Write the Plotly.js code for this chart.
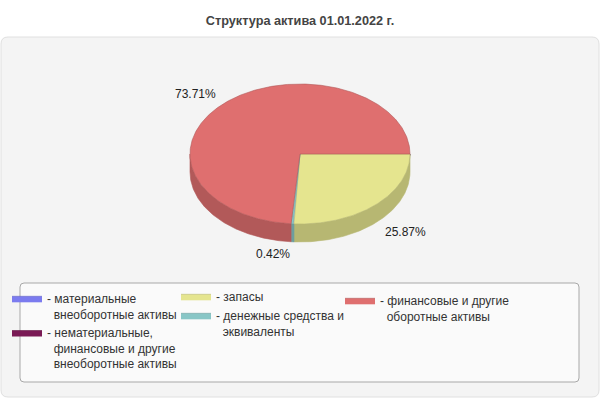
<!DOCTYPE html>
<html>
<head>
<meta charset="utf-8">
<script src="https://cdn.plot.ly/plotly-3.0.1.min.js"></script>
<style>
  html, body { margin: 0; padding: 0; background: #ffffff; }
  #chart { width: 600px; height: 400px; }
</style>
</head>
<body>
<div id="chart"></div>
<script>
// данные диаграммы
const categories = [
    'материальные внеоборотные активы',
    'нематериальные, финансовые и другие внеоборотные активы',
    'запасы',
    'денежные средства и эквиваленты',
    'финансовые и другие оборотные активы'
];
const legendText = [
    '- материальные<br>\u00a0\u00a0внеоборотные активы',
    '- нематериальные,<br>\u00a0\u00a0финансовые и другие<br>\u00a0\u00a0внеоборотные активы',
    '- запасы',
    '- денежные средства и<br>\u00a0\u00a0эквиваленты',
    '- финансовые и другие<br>\u00a0\u00a0оборотные активы'
];
const shares = [0, 0, 25.87, 0.42, 73.71];   // %
const legendOf = ['legend', 'legend', 'legend2', 'legend2', 'legend3'];

// цвета
const topColors  = ['#7b7bef', '#7a1a55', '#e5e58f', '#88c6c6', '#df6f6f'];
const sideColors = ['#6262bf', '#621544', '#b7b772', '#6d9e9e', '#b25959'];

// геометрия "объёмного" круга
const cx = 300, cy = 154, rx = 110, ry = 70, depth = 18;

function arcPoints(t0, t1, dy) {
    const xs = [], ys = [];
    const n = Math.max(2, Math.ceil((t1 - t0) / (Math.PI / 360)));
    for (let i = 0; i <= n; i++) {
        const t = t0 + (t1 - t0) * i / n;
        xs.push(cx + rx * Math.cos(t));
        ys.push(cy + ry * Math.sin(t) + dy);
    }
    return [xs, ys];
}

const total = shares.reduce((a, b) => a + b, 0);
const sideTraces = [], topTraces = [], annotations = [];
let start = 0;
shares.forEach((v, i) => {
    const t0 = start;
    const t1 = start + 2 * Math.PI * v / total;
    start = t1;

    // боковая стенка (видна только передняя половина)
    const a = Math.max(t0, 0), b = Math.min(t1, Math.PI);
    if (v > 0 && b > a) {
        const [ux, uy] = arcPoints(a, b, 0);
        const [lx, ly] = arcPoints(a, b, depth);
        sideTraces.push({
            type: 'scatter', mode: 'lines', fill: 'toself',
            x: ux.concat(lx.reverse(), [ux[0]]),
            y: uy.concat(ly.reverse(), [uy[0]]),
            fillcolor: sideColors[i],
            line: { color: sideColors[i], width: 0.6 },
            hoverinfo: 'skip', showlegend: false
        });
    }

    // верхняя грань; нулевой сектор рисуется узким клином под соседними
    // секторами, чтобы в легенде остался цветной образец
    const [ax, ay] = arcPoints(t0, Math.max(t1, t0 + 0.02), 0);
    topTraces.push({
        type: 'scatter', mode: 'lines', fill: 'toself',
        x: [cx].concat(ax, [cx]),
        y: [cy].concat(ay, [cy]),
        name: legendText[i],
        legend: legendOf[i],
        fillcolor: topColors[i],
        line: { color: sideColors[i], width: 0.6 },
        hovertext: categories[i] + ': ' + v.toFixed(2) + '%',
        hoverinfo: 'text'
    });

    // подпись
    if (v > 0) {
        const m = (t0 + t1) / 2;
        const c = Math.cos(m), s = Math.sin(m);
        annotations.push({
            x: cx + (rx + 11) * c,
            y: cy + (ry + 12) * s + (s > 0 ? depth : 0),
            xref: 'x', yref: 'y',
            text: v.toFixed(2) + '%',
            showarrow: false,
            xanchor: c < 0 ? 'right' : 'left',
            yanchor: 'middle',
            font: { size: 12, color: '#222222' }
        });
    }
});

function roundRect(x0, y0, x1, y1, r) {
    return `M${x0 + r},${y0} L${x1 - r},${y0} Q${x1},${y0} ${x1},${y0 + r} ` +
           `L${x1},${y1 - r} Q${x1},${y1} ${x1 - r},${y1} L${x0 + r},${y1} ` +
           `Q${x0},${y1} ${x0},${y1 - r} L${x0},${y0 + r} Q${x0},${y0} ${x0 + r},${y0} Z`;
}

const legendBase = {
    bgcolor: 'rgba(0,0,0,0)', borderwidth: 0,
    font: { size: 12, color: '#333333' },
    valign: 'top', tracegroupgap: 0, itemclick: false, itemdoubleclick: false,
    xanchor: 'left', yanchor: 'top', orientation: 'v'
};

const layout = {
    width: 600, height: 400, autosize: false,
    margin: { l: 0, r: 0, t: 0, b: 0, pad: 0 },
    paper_bgcolor: '#ffffff', plot_bgcolor: 'rgba(0,0,0,0)',
    font: { family: 'Arial, "Liberation Sans", sans-serif' },
    title: {
        text: '<b>Структура актива 01.01.2022 г.</b>',
        font: { size: 12.7, color: '#444444' },
        x: 0.5, xref: 'paper', y: 1 - 21 / 400, yref: 'container', yanchor: 'middle'
    },
    xaxis: { range: [0, 600], visible: false, fixedrange: true },
    yaxis: { range: [400, 0], visible: false, fixedrange: true },
    shapes: [
        { type: 'path', layer: 'below', xref: 'x', yref: 'y',
          path: roundRect(1, 37, 599, 397, 7),
          fillcolor: '#f4f4f4', line: { color: '#e0e0e0', width: 1 } },
        { type: 'path', layer: 'below', xref: 'x', yref: 'y',
          path: roundRect(20, 283, 579, 382, 4),
          fillcolor: '#fafafa', line: { color: '#a8a8a8', width: 1 } }
    ],
    legend:  Object.assign({}, legendBase, { x: 7 / 600,   y: 1 - 284 / 400 }),
    legend2: Object.assign({}, legendBase, { x: 176 / 600, y: 1 - 282 / 400 }),
    legend3: Object.assign({}, legendBase, { x: 340 / 600, y: 1 - 286 / 400 }),
    annotations: annotations,
    showlegend: true
};

Plotly.newPlot('chart', sideTraces.concat(topTraces), layout, { displayModeBar: false });
</script>
</body>
</html>
